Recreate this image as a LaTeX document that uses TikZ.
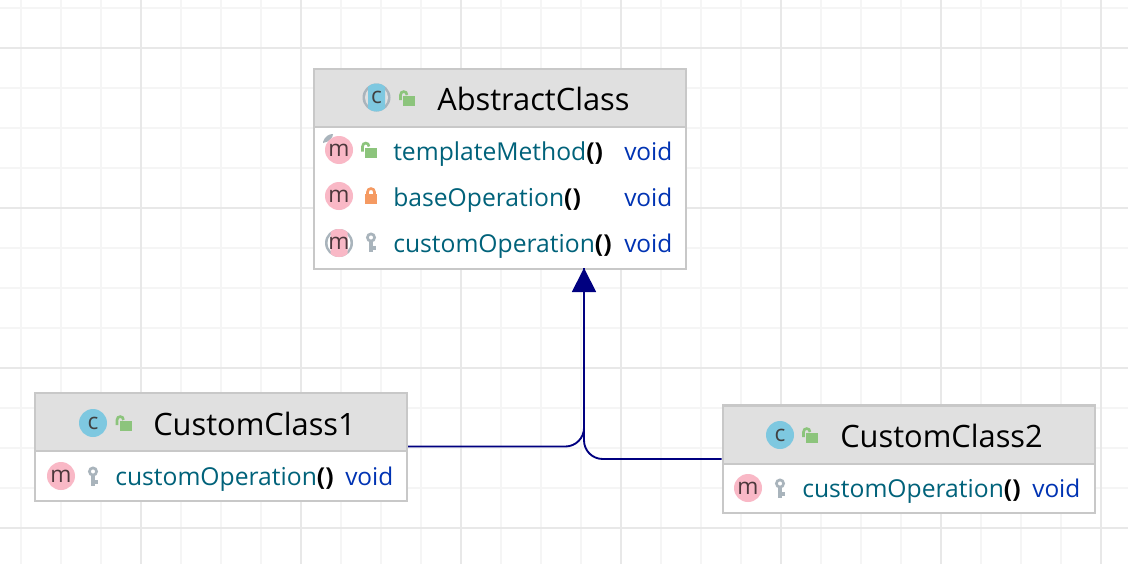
\documentclass[tikz,border=0pt]{standalone}
\usepackage{fontspec}
\setmainfont{Open Sans}
\usetikzlibrary{arrows.meta}
\definecolor{gridminor}{HTML}{F5F5F5}
\definecolor{gridmajor}{HTML}{E8E8E8}
\definecolor{boxline}{HTML}{C8C8C8}
\definecolor{headfill}{HTML}{E0E0E0}
\definecolor{classblue}{HTML}{7EC8E0}
\definecolor{methodpink}{HTML}{F9B8C6}
\definecolor{badgegray}{HTML}{A9B4BC}
\definecolor{lockgreen}{HTML}{8CC47C}
\definecolor{lockorange}{HTML}{F59A62}
\definecolor{methodteal}{HTML}{00627A}
\definecolor{voidblue}{HTML}{0033B3}
\definecolor{linknavy}{HTML}{000080}
\tikzset{
  classbody/.style={draw=boxline,line width=1.5pt,fill=white,inner sep=0pt,minimum width=279pt},
  classhead/.style={draw=boxline,line width=1.5pt,fill=headfill,inner sep=0pt,minimum width=279pt,minimum height=43.5pt},
  titletext/.style={anchor=base west,inner sep=0pt,font=\fontsize{23.1}{26}\selectfont},
  methodtext/.style={anchor=base west,inner sep=0pt,text=methodteal,font=\fontsize{18.5}{22}\selectfont},
  voidtext/.style={anchor=base west,inner sep=0pt,text=voidblue,font=\fontsize{18.3}{22}\selectfont},
  classbadge/.style={circle,fill=classblue,inner sep=0pt,minimum size=21pt,text=black!75,font=\fontsize{17}{17}\selectfont},
  methodbadge/.style={circle,fill=methodpink,inner sep=0pt,minimum size=21pt,text=black!70!methodpink,font=\fontsize{17}{17}\selectfont},
  inherit/.style={draw=linknavy,line width=1.4pt,rounded corners=14pt},
  openlock/.pic={
    \fill[lockgreen] (-6,-5) rectangle (6,5);
    \draw[lockgreen,line width=2pt] (-8.5,1) -- (-8.5,6) .. controls (-8.5,10.5) and (-2,10.5) .. (-2,6);
  },
  closedlock/.pic={
    \fill[lockorange] (-6,-5) rectangle (6,5);
    \draw[lockorange,line width=2pt] (-3.5,5) -- (-3.5,7) .. controls (-3.5,11.5) and (3.5,11.5) .. (3.5,7) -- (3.5,5);
  },
  keyicon/.pic={
    \draw[badgegray,line width=2pt] (0,5.5) circle [radius=3.6];
    \draw[badgegray,line width=2.6pt] (0,2) -- (0,-9) (0,-5) -- (5,-5);
  }
}
\newcommand{\brk}{{\color{black}\bfseries ()}}
\begin{document}
\begin{tikzpicture}[x=0.75pt,y=0.75pt,yscale=-1,xscale=1]
\useasboundingbox (0,0) rectangle (1128,564);
% Grid
\draw[gridminor,line width=1.5pt,shift={(21,8)},step=40] (-21,-8) grid (1107,556);
\draw[gridmajor,line width=1.5pt,shift={(141,48)},step=160] (-141,-48) grid (987,516);
% Class boxes
\node[classbody,minimum height=150pt] (abstract) at (500,169) {};
\node[classhead] (abstracthead) at (500,98) {};
\node[classbody,minimum height=81pt] (custom1) at (221,446.5) {};
\node[classhead] (custom1head) at (221,422) {};
\node[classbody,minimum height=81pt] (custom2) at (908.5,459) {};
\node[classhead] (custom2head) at (908.5,434.5) {};
% Connectors
\coordinate (tip) at (584,268);
\draw[inherit] (custom2.west) -- (custom2.west -| tip) -- (tip);
\draw[inherit,-{Triangle[length=18pt,width=18pt]}] (custom1.east) -- (custom1.east -| tip) -- (tip);
% AbstractClass header
\fill[badgegray] (376.5,97.5) circle [radius=14];
\fill[headfill] (376.5,97.5) circle [radius=11.5];
\begin{scope}
\clip (368,80) rectangle (385,115);
\fill[classblue] (376.5,97.5) circle [radius=14];
\end{scope}
\node[inner sep=0pt,text=black!75,font=\fontsize{17}{17}\selectfont] (abstractc) at (376.5,97.5) {c};
\pic at (409,101) {openlock};
\node[titletext] (abstracttitle) at (437,110) {AbstractClass};
% AbstractClass rows
\fill[badgegray] (323,142) .. controls (325,136) and (329,134) .. (333,134) .. controls (333,138) and (329,142) .. (323,143) -- cycle;
\node[methodbadge] (templatebadge) at (339,150) {m};
\pic at (371,152.5) {openlock};
\node[methodtext] (templatename) at (393,160) {templateMethod\brk};
\node[voidtext] (templatevoid) at (624,160) {void};
\node[methodbadge] (basebadge) at (339,196) {m};
\pic at (371,199) {closedlock};
\node[methodtext] (basename) at (393,206) {baseOperation\brk};
\node[voidtext] (basevoid) at (624,206) {void};
\fill[badgegray] (339,243) circle [radius=14];
\fill[white] (339,243) circle [radius=11.5];
\begin{scope}
\clip (330.5,225) rectangle (347.5,260);
\fill[methodpink] (339,243) circle [radius=14];
\end{scope}
\node[inner sep=0pt,text=black!70!methodpink,font=\fontsize{17}{17}\selectfont] (custombadge) at (339,243) {m};
\pic at (371,243) {keyicon};
\node[methodtext] (customname) at (393,252) {customOperation\brk};
\node[voidtext] (customvoid) at (624,252) {void};
% CustomClass1
\node[classbadge] (custom1c) at (93,423) {c};
\pic at (125.5,426) {openlock};
\node[titletext] (custom1title) at (153,435) {CustomClass1};
\node[methodbadge] (custom1badge) at (61,476) {m};
\pic at (93,477) {keyicon};
\node[methodtext] (custom1name) at (115,485) {customOperation\brk};
\node[voidtext] (custom1void) at (345,485) {void};
% CustomClass2
\node[classbadge] (custom2c) at (780,435) {c};
\pic at (812,438) {openlock};
\node[titletext] (custom2title) at (840,447) {CustomClass2};
\node[methodbadge] (custom2badge) at (748,488) {m};
\pic at (780,489) {keyicon};
\node[methodtext] (custom2name) at (802,497) {customOperation\brk};
\node[voidtext] (custom2void) at (1032,497) {void};
\end{tikzpicture}
\end{document}
